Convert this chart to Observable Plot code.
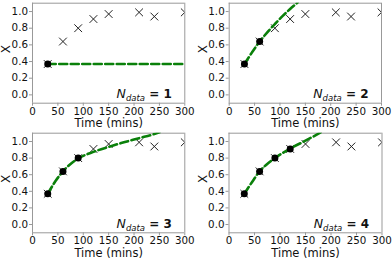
<!DOCTYPE html>
<html>
<head>
<meta charset="utf-8">
<script src="https://cdn.jsdelivr.net/npm/d3@7"></script>
<script src="https://cdn.jsdelivr.net/npm/@observablehq/plot@0.6"></script>
<style>
  html, body { margin: 0; padding: 0; background: white; }
  #wrap { position: relative; width: 392px; height: 259px; overflow: hidden; background: white; }
  #wrap svg { position: absolute; }
</style>
</head>
<body>
<div id="wrap"></div>
<script>
// Measured data
const times = [30, 60, 90, 120, 150, 210, 240, 300];
const conversion = [0.37, 0.64, 0.80, 0.91, 0.97, 0.99, 0.94, 0.99];
const nDataValues = [1, 2, 3, 4];

// Fitted curves
const fit1Time = [30, 300];
const fit1X = [0.37, 0.37];
const fit2Time = [30, 45, 60, 75, 90, 105, 120, 135];
const fit2X = [0.37, 0.51, 0.64, 0.75, 0.85, 0.945, 1.03, 1.11];
const fit3Time = [30, 45, 60, 75, 90, 120, 150, 180, 210, 240, 250];
const fit3X = [0.37, 0.52, 0.64, 0.73, 0.795, 0.875, 0.935, 0.99, 1.04, 1.09, 1.11];
const fit4Time = [30, 45, 60, 75, 90, 105, 120, 150, 180];
const fit4X = [0.37, 0.51, 0.64, 0.73, 0.80, 0.86, 0.915, 1.01, 1.11];

const xTicks = [0, 50, 100, 150, 200, 250, 300];
const yTicks = [0.0, 0.2, 0.4, 0.6, 0.8, 1.0];

const fitsTime = [fit1Time, fit2Time, fit3Time, fit4Time];
const fitsX = [fit1X, fit2X, fit3X, fit4X];

const points = times.map((t, i) => ({t, x: conversion[i]}));

const layouts = [
  {left: 0,   top: 0,   ml: 32,   mr: 11.7, mt: 2.7, mb: 27.3},
  {left: 196, top: 0,   ml: 32.7, mr: 11,   mt: 2.7, mb: 27.3},
  {left: 0,   top: 129, ml: 32,   mr: 11.7, mt: 3.7, mb: 26.7},
  {left: 196, top: 129, ml: 32.5, mr: 10.5, mt: 3.7, mb: 26.7}
];

const wrap = document.getElementById("wrap");
const spine = "#999";

nDataValues.forEach((n, k) => {
  const L = layouts[k];
  const fit = fitsTime[k].map((t, i) => ({t, x: fitsX[k][i]}));
  const used = points.slice(0, n);
  const svg = Plot.plot({
    width: 196,
    height: 130,
    marginLeft: L.ml,
    marginRight: L.mr,
    marginTop: L.mt,
    marginBottom: L.mb,
    x: {domain: [0, 300]},
    y: {domain: [-0.1, 1.1]},
    style: {fontFamily: "DejaVu Sans", fontSize: "10px", color: "#111", background: "transparent", overflow: "visible"},
    marks: [
      Plot.axisX({ticks: xTicks, tickSize: 3, tickPadding: 1, stroke: spine, label: null, fontSize: 10.3, fill: "#111"}),
      Plot.axisY({ticks: yTicks, tickFormat: d => d.toFixed(1), tickSize: 3, tickPadding: 1.5, stroke: spine, label: null, fontSize: 10.3, fill: "#111"}),
      Plot.ruleX([0, 300], {stroke: spine}),
      Plot.ruleY([-0.1, 1.1], {stroke: spine}),
      Plot.dot(points, {x: "t", y: "x", symbol: "times", r: 3.6, stroke: "#222", strokeWidth: 1, clip: true}),
      Plot.line(fit, {x: "t", y: "x", stroke: "#0a800a", strokeWidth: 2.6, strokeDasharray: "8,3.5", curve: "monotone-x", clip: true}),
      Plot.dot(used, {x: "t", y: "x", fill: "black", r: 3.5}),
      Plot.text(["Time (mins)"], {frameAnchor: "bottom", dy: 20.5, fontSize: 11.5, lineAnchor: "middle", fill: "#111"}),
      Plot.text(["X"], {frameAnchor: "left", dx: -26, rotate: -90, fontSize: 12, lineAnchor: "middle", fill: "#111"}),
      Plot.text(["N"], {frameAnchor: "bottom-right", dx: -13, dy: -8, textAnchor: "end", lineAnchor: "middle", fill: "#111", className: "ndata"})
    ]
  });
  svg.style.left = L.left + "px";
  svg.style.top = L.top + "px";
  const t = svg.querySelector("g.ndata text") || svg.querySelector(".ndata text");
  if (t) {
    while (t.firstChild) t.removeChild(t.firstChild);
    const ns = "http://www.w3.org/2000/svg";
    const a = document.createElementNS(ns, "tspan");
    a.setAttribute("font-style", "italic"); a.setAttribute("font-size", "12.5");
    a.textContent = "N";
    const b = document.createElementNS(ns, "tspan");
    b.setAttribute("font-style", "italic"); b.setAttribute("font-size", "8.5"); b.setAttribute("dy", "3");
    b.textContent = "data";
    const c = document.createElementNS(ns, "tspan");
    c.setAttribute("font-weight", "bold"); c.setAttribute("font-size", "12"); c.setAttribute("dy", "-3");
    c.textContent = " = " + n;
    t.appendChild(a); t.appendChild(b); t.appendChild(c);
  }
  wrap.appendChild(svg);
});
</script>
</body>
</html>
